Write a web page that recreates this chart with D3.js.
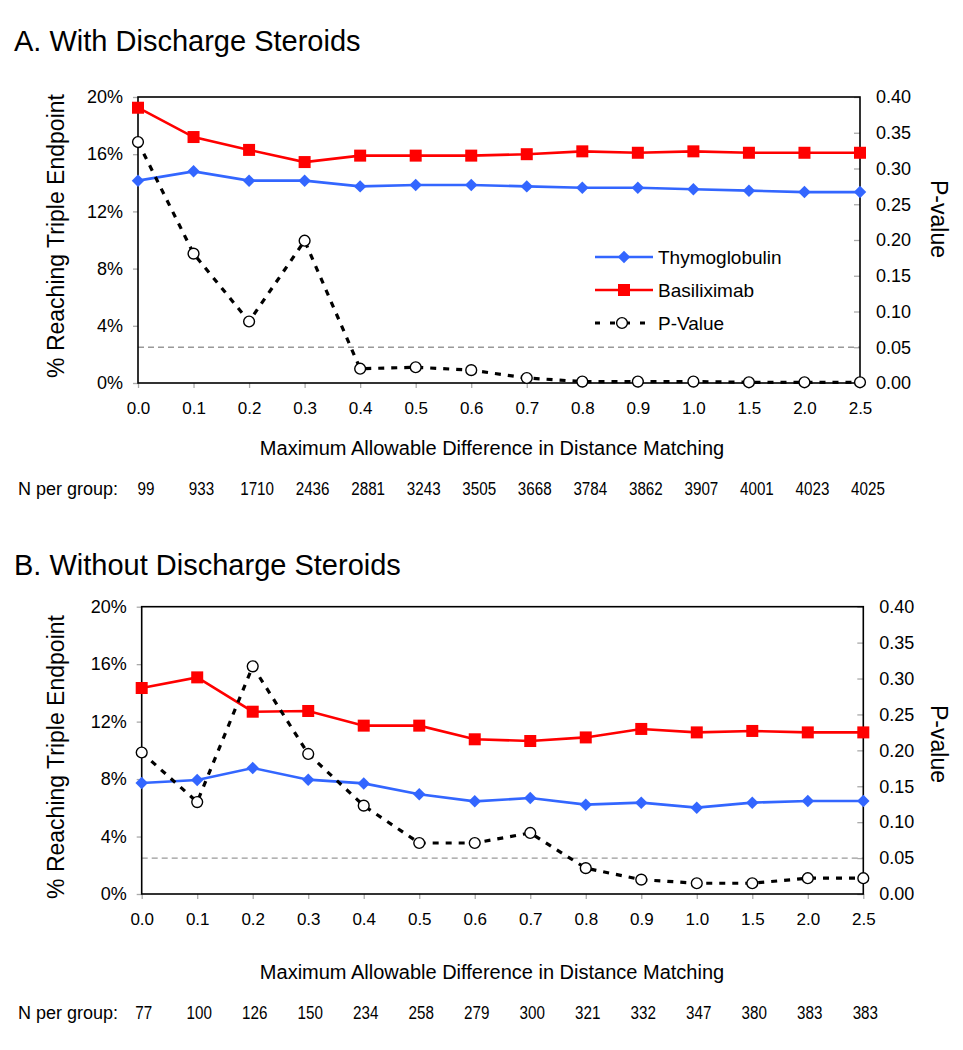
<!DOCTYPE html>
<html lang="en">
<head>
<meta charset="UTF-8">
<title>Triple endpoint by matching distance</title>
<style>
  body { margin: 0; background: #fff; }
  svg text { font-family: "Liberation Sans", Arial, sans-serif; fill: #000; }
</style>
</head>
<body>
<script src="https://cdn.jsdelivr.net/npm/d3@7/dist/d3.min.js"></script>
<script>
var width = 963;
var height = 1050;

// x categories (maximum allowable difference)
var categories = ["0.0","0.1","0.2","0.3","0.4","0.5","0.6","0.7","0.8","0.9","1.0","1.5","2.0","2.5"];

// A. with discharge steroids (% reaching triple endpoint, p-value, N)
var thymoA = [14.15,14.8,14.15,14.15,13.75,13.85,13.85,13.75,13.65,13.65,13.55,13.45,13.35,13.35];
var basilA = [19.25,17.2,16.3,15.45,15.9,15.9,15.9,16.0,16.2,16.1,16.2,16.1,16.1,16.1];
var pvalA  = [0.337,0.181,0.086,0.199,0.020,0.022,0.018,0.007,0.002,0.002,0.002,0.001,0.001,0.001];
var nA     = [99,933,1710,2436,2881,3243,3505,3668,3784,3862,3907,4001,4023,4025];

// B. without discharge steroids
var thymoB = [7.73,7.94,8.77,7.96,7.7,6.94,6.45,6.68,6.22,6.36,6.01,6.36,6.47,6.47];
var basilB = [14.34,15.08,12.69,12.74,11.72,11.72,10.77,10.65,10.9,11.49,11.25,11.35,11.25,11.25];
var pvalB  = [0.197,0.128,0.317,0.195,0.123,0.071,0.071,0.085,0.036,0.020,0.015,0.015,0.022,0.022];
var nB     = [77,100,126,150,234,258,279,300,321,332,347,380,383,383];

var leftTicks = [0,4,8,12,16,20];
var rightTicks = [0,0.05,0.10,0.15,0.20,0.25,0.30,0.35,0.40];
var seriesNames = ["Thymoglobulin","Basiliximab","P-Value"];

var blue = "#3366ff", red = "#ff0000";

var svg = d3.select("body").append("svg")
    .attr("width", width)
    .attr("height", height);

function drawPanel(o) {
    var g = svg.append("g");
    var x = d3.scalePoint().domain(categories).range([o.left, o.right]).padding(0);
    var y = d3.scaleLinear().domain([0, 20]).range([o.bottom, o.top]);
    var y2 = d3.scaleLinear().domain([0, 0.4]).range([o.bottom, o.top]);

    // title
    g.append("text").attr("x", 14).attr("y", o.titleY)
        .attr("font-size", "29px").text(o.title);

    // left axis
    var ax = g.append("g").attr("transform", "translate(" + o.left + ",0)")
        .call(d3.axisLeft(y).tickValues(leftTicks).tickSize(5).tickPadding(10)
            .tickFormat(function (d) { return d + "%"; }));
    ax.select(".domain").remove();
    ax.selectAll(".tick line").attr("stroke", "#aaa").attr("stroke-width", 1.3);
    ax.selectAll(".tick text").attr("font-size", "18px").attr("font-family", null);

    // right axis (ticks point inward)
    var ar = g.append("g").attr("transform", "translate(" + o.right + ",0)")
        .call(d3.axisRight(y2).tickValues(rightTicks).tickSize(-6).tickPadding(16)
            .tickFormat(d3.format(".2f")));
    ar.select(".domain").remove();
    ar.selectAll(".tick line").attr("stroke", "#aaa").attr("stroke-width", 1.3);
    ar.selectAll(".tick text").attr("font-size", "18px").attr("font-family", null);

    // bottom axis
    var ab = g.append("g").attr("transform", "translate(0," + o.bottom + ")")
        .call(d3.axisBottom(x).tickSize(5).tickPadding(14));
    ab.select(".domain").remove();
    ab.selectAll(".tick line").attr("stroke", "#aaa").attr("stroke-width", 1.3);
    ab.selectAll(".tick text").attr("font-size", "17px").attr("font-family", null);

    // 0.05 reference line
    g.append("line")
        .attr("x1", o.left).attr("x2", o.right)
        .attr("y1", y2(0.05)).attr("y2", y2(0.05))
        .attr("stroke", "#999").attr("stroke-width", 1.3)
        .attr("stroke-dasharray", "6,4");

    // frame
    g.append("rect")
        .attr("x", o.left).attr("y", o.top)
        .attr("width", o.right - o.left).attr("height", o.bottom - o.top)
        .attr("fill", "none").attr("stroke", "#000").attr("stroke-width", 1.6);

    // axis titles
    g.append("text")
        .attr("transform", "translate(64," + o.leftTitleY + ") rotate(-90)")
        .attr("text-anchor", "middle").attr("font-size", "23px")
        .text("% Reaching Triple Endpoint");
    g.append("text")
        .attr("transform", "translate(931," + o.rightTitleY + ") rotate(90)")
        .attr("text-anchor", "middle").attr("font-size", "23px")
        .text("P-value");
    g.append("text")
        .attr("x", 492).attr("y", o.xTitleY)
        .attr("text-anchor", "middle").attr("font-size", "20px")
        .text("Maximum Allowable Difference in Distance Matching");

    // N per group row
    g.append("text").attr("x", 18).attr("y", o.nY)
        .attr("font-size", "18px").text("N per group:");
    g.selectAll(".nval").data(o.n).enter().append("text")
        .attr("class", "nval")
        .attr("transform", function (d, i) {
            return "translate(" + (x(categories[i]) + o.nShift) + "," + o.nY + ") scale(0.8,1)";
        })
        .attr("text-anchor", "middle").attr("font-size", "19px")
        .text(function (d) { return d; });

    var line = d3.line()
        .x(function (d, i) { return x(categories[i]); })
        .y(function (d) { return y(d); });
    var line2 = d3.line()
        .x(function (d, i) { return x(categories[i]); })
        .y(function (d) { return y2(d); });

    // Thymoglobulin
    g.append("path").attr("d", line(o.thymo))
        .attr("fill", "none").attr("stroke", blue).attr("stroke-width", 2.6);
    g.selectAll(".dia").data(o.thymo).enter().append("path")
        .attr("class", "dia")
        .attr("d", d3.symbol().type(d3.symbolSquare).size(78))
        .attr("transform", function (d, i) {
            return "translate(" + x(categories[i]) + "," + y(d) + ") rotate(45)";
        })
        .attr("fill", blue);

    // Basiliximab
    g.append("path").attr("d", line(o.basil))
        .attr("fill", "none").attr("stroke", red).attr("stroke-width", 2.6);
    g.selectAll(".sq").data(o.basil).enter().append("rect")
        .attr("class", "sq")
        .attr("x", function (d, i) { return x(categories[i]) - 6; })
        .attr("y", function (d) { return y(d) - 6; })
        .attr("width", 12).attr("height", 12)
        .attr("fill", red);

    // P-value
    g.append("path").attr("d", line2(o.pval))
        .attr("fill", "none").attr("stroke", "#000").attr("stroke-width", 3.2)
        .attr("stroke-dasharray", "6,7");
    g.selectAll(".circ").data(o.pval).enter().append("circle")
        .attr("class", "circ")
        .attr("cx", function (d, i) { return x(categories[i]); })
        .attr("cy", function (d) { return y2(d); })
        .attr("r", 5.4)
        .attr("fill", "#fff").attr("stroke", "#000").attr("stroke-width", 1.4);

    return g;
}

drawPanel({
    title: "A. With Discharge Steroids", titleY: 51,
    left: 138, right: 860, top: 97, bottom: 383,
    leftTitleY: 236, rightTitleY: 219, xTitleY: 455,
    nY: 495, nShift: 8,
    thymo: thymoA, basil: basilA, pval: pvalA, n: nA
});

drawPanel({
    title: "B. Without Discharge Steroids", titleY: 575,
    left: 141.7, right: 863.3, top: 606.7, bottom: 894,
    leftTitleY: 757, rightTitleY: 744, xTitleY: 979,
    nY: 1019, nShift: 2,
    thymo: thymoB, basil: basilB, pval: pvalB, n: nB
});

// legend (panel A only)
var leg = svg.append("g");
var legY = [257, 290, 323];
var legColors = [blue, red, "#000"];
seriesNames.forEach(function (name, i) {
    var row = leg.append("g").attr("transform", "translate(0," + legY[i] + ")");
    row.append("line").attr("x1", 595).attr("x2", 653).attr("y1", 0).attr("y2", 0)
        .attr("stroke", legColors[i]).attr("stroke-width", i === 2 ? 3.2 : 2.6)
        .attr("stroke-dasharray", i === 2 ? "5,10" : null);
    if (i === 0) {
        row.append("path").attr("d", d3.symbol().type(d3.symbolSquare).size(78))
            .attr("transform", "translate(624,0) rotate(45)").attr("fill", blue);
    } else if (i === 1) {
        row.append("rect").attr("x", 618).attr("y", -6).attr("width", 12).attr("height", 12)
            .attr("fill", red);
    } else {
        row.append("circle").attr("cx", 622).attr("cy", 0).attr("r", 5.4)
            .attr("fill", "#fff").attr("stroke", "#000").attr("stroke-width", 1.4);
    }
    row.append("text").attr("x", 658).attr("y", 7).attr("font-size", "19px").text(name);
});
</script>
</body>
</html>
